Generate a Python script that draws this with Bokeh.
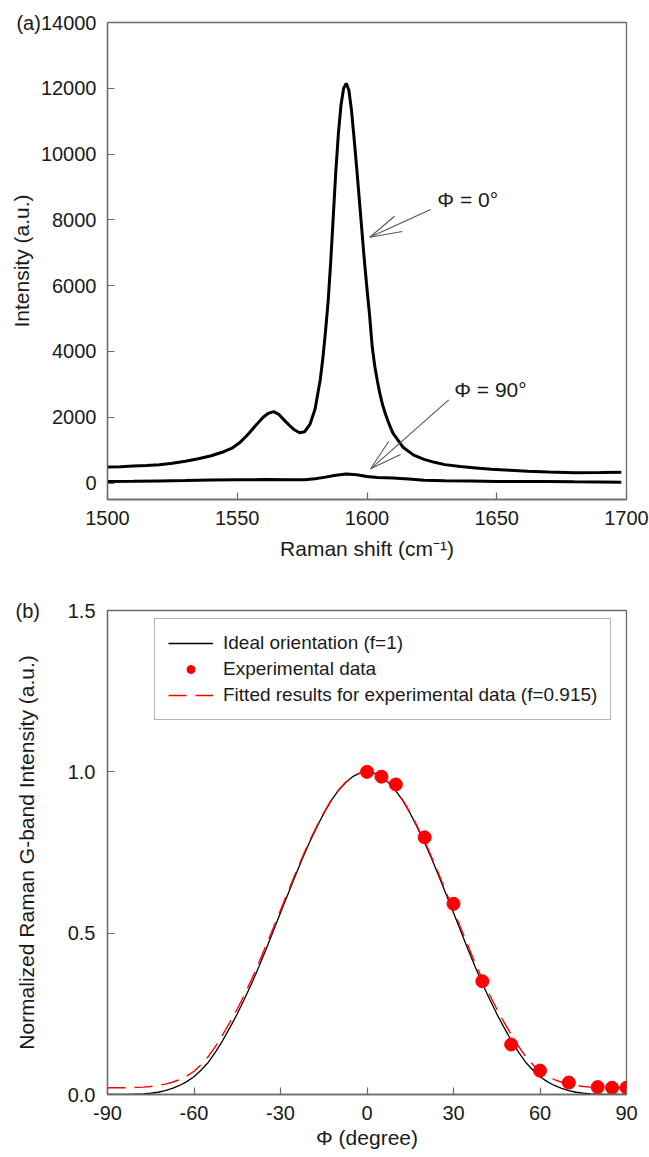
from bokeh.plotting import figure
from bokeh.layouts import column
from bokeh.models import (Label, Arrow, Legend, LegendItem, FixedTicker,
                          Range1d, NumeralTickFormatter)
from bokeh.embed import file_html
from bokeh.resources import INLINE

FONT = "Liberation Sans"
GRAY = "#6b6b6b"
ARROW_GRAY = "#555555"

# ---------------- Panel (a) data: Raman spectra ----------------
shift_0 = [1500, 1505, 1510, 1515, 1520, 1525, 1530, 1535, 1540, 1545, 1548, 1551, 1554,
           1557, 1560, 1562, 1564, 1566, 1568, 1570, 1572, 1574, 1576, 1578, 1580, 1581,
           1582, 1583, 1584, 1585, 1586, 1587, 1588, 1589, 1590, 1591, 1592, 1593, 1594,
           1595, 1596, 1597, 1598, 1599, 1600, 1601, 1602, 1603, 1604, 1605, 1606, 1607,
           1608, 1609, 1610, 1614, 1618, 1622, 1626, 1630, 1636, 1642, 1648, 1655, 1662,
           1670, 1680, 1690, 1698]
intensity_0 = [490, 495, 515, 530, 555, 600, 660, 740, 830, 960, 1060, 1230, 1470,
               1740, 2000, 2120, 2170, 2090, 1920, 1760, 1620, 1530, 1560, 1780, 2250, 2700,
               3150, 3800, 4600, 5500, 6700, 8100, 9500, 10650, 11500, 12000, 12150, 11950, 11350,
               10500, 9600, 8650, 7700, 6750, 5900, 5100, 4150, 3550, 3100, 2700, 2380, 2120,
               1900, 1700, 1520, 1080, 850, 720, 630, 560, 500, 460, 420, 390, 360,
               335, 310, 320, 330]

shift_90 = [1500, 1510, 1520, 1530, 1540, 1550, 1560, 1570, 1576, 1580, 1584, 1588, 1592,
            1596, 1600, 1604, 1610, 1616, 1622, 1630, 1640, 1650, 1660, 1670, 1680, 1690, 1698]
intensity_90 = [50, 55, 65, 75, 90, 100, 105, 100, 100, 130, 180, 240, 275,
                250, 200, 170, 150, 120, 85, 70, 60, 50, 50, 50, 40, 35, 25]

x_ticks_a = [1500, 1550, 1600, 1650, 1700]
y_ticks_a = [0, 2000, 4000, 6000, 8000, 10000, 12000, 14000]

# ---------------- Panel (b) data: angular dependence ----------------
phi_half = [0, 2.5, 5, 7.5, 10, 12.5, 15, 17.5, 20, 22.5, 25, 27.5, 30, 32.5, 35, 37.5,
            40, 42.5, 45, 47.5, 50, 52.5, 55, 57.5, 60, 62.5, 65, 67.5, 70, 72.5, 75,
            77.5, 80, 82.5, 85, 87.5, 90]
ideal_half = [1.000, 0.996, 0.985, 0.966, 0.941, 0.910, 0.871, 0.827, 0.780, 0.729,
              0.675, 0.619, 0.563, 0.507, 0.450, 0.396, 0.344, 0.296, 0.250, 0.208,
              0.168, 0.132, 0.100, 0.076, 0.055, 0.040, 0.028, 0.019, 0.012, 0.007,
              0.004, 0.002, 0.001, 0.000, 0.000, 0.000, 0.000]
fitted_half = [1.000, 0.996, 0.985, 0.967, 0.942, 0.911, 0.873, 0.830, 0.785, 0.734,
               0.681, 0.626, 0.571, 0.516, 0.462, 0.408, 0.357, 0.309, 0.265, 0.224,
               0.186, 0.150, 0.118, 0.093, 0.072, 0.057, 0.046, 0.038, 0.032, 0.028,
               0.025, 0.023, 0.022, 0.021, 0.021, 0.021, 0.021]
phi_curve = [-v for v in phi_half[::-1]] + phi_half[1:]
ideal_curve = ideal_half[::-1] + ideal_half[1:]
fitted_curve = fitted_half[::-1] + fitted_half[1:]

phi_exp = [0, 5, 10, 20, 30, 40, 50, 60, 70, 80, 85, 90]
intensity_exp = [1.000, 0.985, 0.961, 0.797, 0.591, 0.351, 0.155, 0.074, 0.037, 0.023, 0.021, 0.021]

x_ticks_b = [-90, -60, -30, 0, 30, 60, 90]
y_ticks_b = [0.0, 0.5, 1.0, 1.5]


def style(p, xt, yt):
    p.xgrid.grid_line_color = None
    p.ygrid.grid_line_color = None
    p.outline_line_color = GRAY
    p.outline_line_width = 1.3
    p.background_fill_color = "white"
    p.border_fill_color = "white"
    for ax in (p.xaxis[0], p.yaxis[0]):
        ax.axis_line_color = GRAY
        ax.axis_line_width = 1.3
        ax.major_tick_line_color = GRAY
        ax.major_tick_line_width = 1.2
        ax.major_tick_in = 7
        ax.major_tick_out = 0
        ax.minor_tick_line_color = None
        ax.major_label_text_font = FONT
        ax.major_label_text_font_size = "20px"
        ax.major_label_text_color = "#1a1a1a"
        ax.axis_label_text_font = FONT
        ax.axis_label_text_font_size = "21px"
        ax.axis_label_text_font_style = "normal"
        ax.axis_label_text_color = "#1a1a1a"
    p.xaxis.ticker = FixedTicker(ticks=xt)
    p.yaxis.ticker = FixedTicker(ticks=yt)


def note(p, x, y, text, align="left", size="21px"):
    p.add_layout(Label(x=x, y=y, text=text, text_font=FONT, text_font_size=size,
                       text_baseline="middle", text_align=align, text_color="#1a1a1a"))


def seg(p, x0, y0, x1, y1):
    p.add_layout(Arrow(end=None, x_start=x0, y_start=y0, x_end=x1, y_end=y1,
                       line_color=ARROW_GRAY, line_width=1.1))


# ---------------- Figure (a) ----------------
pa = figure(width=649, height=580, x_range=Range1d(1500, 1700), y_range=Range1d(-500, 14000),
            output_backend="svg", toolbar_location=None,
            min_border_left=107, min_border_right=23, min_border_top=22, min_border_bottom=81)
style(pa, x_ticks_a, y_ticks_a)
pa.xaxis.axis_label = "Raman shift (cm\u207b\u00b9)"
pa.yaxis.axis_label = "Intensity (a.u.)"
pa.yaxis.major_label_overrides = {14000: "(a)14000"}
pa.xaxis.major_label_standoff = 11
pa.xaxis.axis_label_standoff = 9
pa.yaxis.major_label_standoff = 11
pa.yaxis.axis_label_standoff = -20

pa.line(shift_0, intensity_0, line_color="black", line_width=3)
pa.line(shift_90, intensity_90, line_color="black", line_width=3)

# arrow for phi = 0
seg(pa, 1624.5, 8315, 1601.1, 7473)
seg(pa, 1601.1, 7473, 1610.6, 8111)
seg(pa, 1601.1, 7473, 1613.6, 7646)
# arrow for phi = 90
seg(pa, 1631.5, 2530, 1601.4, 433)
seg(pa, 1601.4, 433, 1608.4, 1272)
seg(pa, 1601.4, 433, 1612.9, 868)

note(pa, 1627.1, 8618, "\u03a6 = 0\u00b0")
note(pa, 1633.6, 2830, "\u03a6 = 90\u00b0")

# ---------------- Figure (b) ----------------
pb = figure(width=649, height=577, x_range=Range1d(-90, 90), y_range=Range1d(0, 1.5),
            output_backend="svg", toolbar_location=None,
            min_border_left=101, min_border_right=19, min_border_top=30, min_border_bottom=63)
style(pb, x_ticks_b, y_ticks_b)
pb.yaxis.formatter = NumeralTickFormatter(format="0.0")
pb.yaxis.major_label_overrides = {1.5: "(b)\u00a0\u00a0\u00a0\u00a0\u00a01.5"}
pb.xaxis.major_label_overrides = {-90: "-90", -60: "-60", -30: "-30"}
pb.xaxis.axis_label = "\u03a6 (degree)"
pb.yaxis.axis_label = "Normalized Raman G-band Intensity (a.u.)"
pb.xaxis.major_label_standoff = 11
pb.xaxis.axis_label_standoff = 3
pb.yaxis.major_label_standoff = 12
pb.yaxis.axis_label_standoff = -26

r_ideal = pb.line(phi_curve, ideal_curve, line_color="black", line_width=1.3)
r_fit = pb.line(phi_curve, fitted_curve, line_color="#ff0000", line_width=1.4, line_dash="18 9")
r_exp = pb.scatter(phi_exp, intensity_exp, size=13, fill_color="#ff0000", line_color="#ff0000")

legend = Legend(items=[LegendItem(label="Ideal orientation (f=1)", renderers=[r_ideal]),
                       LegendItem(label="Experimental data", renderers=[r_exp]),
                       LegendItem(label="Fitted results for experimental data (f=0.915)",
                                  renderers=[r_fit])],
                location=(47, 374), padding=13, spacing=4, glyph_width=45, glyph_height=20,
                label_height=20, label_standoff=10, label_text_font=FONT,
                label_text_font_size="19px", label_text_color="#1a1a1a",
                border_line_color=GRAY, border_line_width=1.3, background_fill_alpha=1.0,
                margin=0)
pb.add_layout(legend)

layout = column(pa, pb, spacing=0)
open("out.html", "w").write(file_html(layout, INLINE))
